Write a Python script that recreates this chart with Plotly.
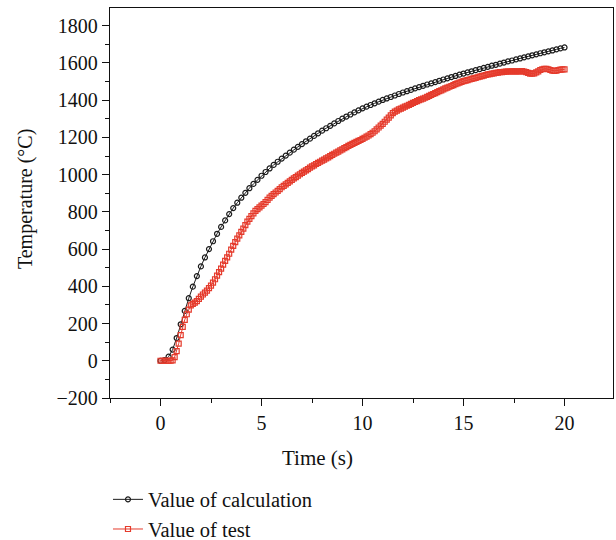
import plotly.graph_objects as go

# ---- data ----
calc_time = [round(i * 0.2, 1) for i in range(101)]
calc_temp = [0, 4, 22, 60, 122, 196, 268, 336, 398, 455,
             507, 555, 600, 642, 682, 719, 754, 788, 820, 849,
             876, 902, 927, 950, 972, 994, 1014, 1033, 1052, 1069,
             1086, 1102, 1118, 1134, 1149, 1164, 1179, 1193, 1208, 1222,
             1236, 1249, 1262, 1275, 1288, 1301, 1312, 1323, 1334, 1345,
             1356, 1365, 1374, 1383, 1392, 1401, 1409, 1417, 1425, 1433,
             1441, 1448, 1455, 1463, 1470, 1477, 1484, 1490, 1497, 1504,
             1511, 1517, 1524, 1530, 1537, 1543, 1549, 1555, 1561, 1567,
             1573, 1579, 1585, 1590, 1596, 1602, 1608, 1613, 1619, 1624,
             1630, 1635, 1641, 1646, 1652, 1657, 1662, 1667, 1673, 1678,
             1683]

test_time = [round(i * 0.1, 1) for i in range(201)]
test_temp = [0, 0, 0, 0, 0, 0, 2, 20, 52, 92,
             138, 182, 220, 250, 275, 298, 306, 312, 320, 332,
             345, 356, 366, 377, 390, 404, 420, 438, 457, 476,
             495, 516, 537, 555, 575, 597, 617, 637, 656, 674,
             692, 710, 729, 747, 762, 777, 792, 805, 815, 824,
             833, 842, 852, 864, 876, 886, 895, 904, 913, 922,
             932, 940, 948, 956, 964, 972, 980, 987, 995, 1002,
             1009, 1016, 1023, 1030, 1037, 1044, 1050, 1057, 1063, 1069,
             1075, 1081, 1087, 1093, 1099, 1106, 1112, 1118, 1124, 1130,
             1136, 1142, 1148, 1154, 1160, 1165, 1171, 1176, 1181, 1186,
             1192, 1198, 1204, 1210, 1217, 1225, 1233, 1243, 1253, 1263,
             1273, 1284, 1295, 1306, 1318, 1330, 1338, 1344, 1350, 1355,
             1360, 1365, 1370, 1375, 1380, 1385, 1390, 1395, 1400, 1404,
             1408, 1413, 1418, 1423, 1428, 1433, 1438, 1443, 1448, 1453,
             1458, 1463, 1467, 1472, 1476, 1481, 1486, 1490, 1494, 1498,
             1502, 1505, 1508, 1511, 1514, 1517, 1520, 1523, 1526, 1529,
             1532, 1535, 1538, 1540, 1542, 1544, 1546, 1548, 1550, 1551,
             1552, 1553, 1554, 1554, 1555, 1555, 1555, 1554, 1555, 1556,
             1554, 1550, 1546, 1543, 1542, 1544, 1549, 1555, 1562, 1566,
             1568, 1568, 1566, 1562, 1558, 1557, 1559, 1562, 1564, 1565,
             1565]

x_ticks = [0, 5, 10, 15, 20]
y_ticks = [-200, 0, 200, 400, 600, 800, 1000, 1200, 1400, 1600, 1800]

FONT = "Liberation Serif"
BLACK = "#1c1c1c"
RED = "#e53b2c"

fig = go.Figure()
fig.add_trace(go.Scatter(
    x=calc_time, y=calc_temp, name="Value of calculation",
    mode="lines+markers",
    line=dict(color=BLACK, width=1),
    marker=dict(symbol="circle-open", size=5, color=BLACK, line=dict(width=1.2, color=BLACK)),
))
fig.add_trace(go.Scatter(
    x=test_time, y=test_temp, name="Value of test",
    mode="lines+markers",
    line=dict(color=RED, width=1),
    marker=dict(symbol="square-open", size=5, color=RED, line=dict(width=1.2, color=RED)),
))

axis_common = dict(
    showline=True, linecolor="#111", linewidth=1.3, mirror=True,
    ticks="outside", ticklen=7, tickwidth=1.2, tickcolor="#111",
    showgrid=False, zeroline=False,
    tickfont=dict(family=FONT, size=20, color="#111"),
)

fig.update_xaxes(
    range=[-2.5, 22.4], tickvals=x_ticks,
    minor=dict(dtick=2.5, tick0=0, ticks="outside", ticklen=4, tickwidth=1.2, tickcolor="#111"),
    **axis_common,
)
fig.update_yaxes(
    range=[-200, 1895], tickvals=y_ticks,
    minor=dict(dtick=100, tick0=0, ticks="outside", ticklen=4, tickwidth=1.2, tickcolor="#111"),
    **axis_common,
)

fig.add_annotation(text="Time (s)", xref="paper", yref="paper", x=0.412, y=-0.153,
                   xanchor="center", yanchor="middle", showarrow=False,
                   font=dict(family=FONT, size=21, color="#111"))
fig.add_annotation(text="Temperature (°C)", xref="paper", yref="paper", x=-0.169, y=0.51,
                   xanchor="center", yanchor="middle", showarrow=False, textangle=-90,
                   font=dict(family=FONT, size=20, color="#111"))

fig.update_layout(
    width=616, height=540,
    margin=dict(l=110, r=3, t=8, b=142),
    plot_bgcolor="white", paper_bgcolor="white",
    showlegend=True,
    legend=dict(x=-0.004, y=0.112, xref="paper", yref="container",
                xanchor="left", yanchor="top",
                orientation="v", bgcolor="rgba(0,0,0,0)",
                font=dict(family=FONT, size=20.5, color="#111"),
                tracegroupgap=0, itemwidth=30),
)

fig.write_html("out.html")
